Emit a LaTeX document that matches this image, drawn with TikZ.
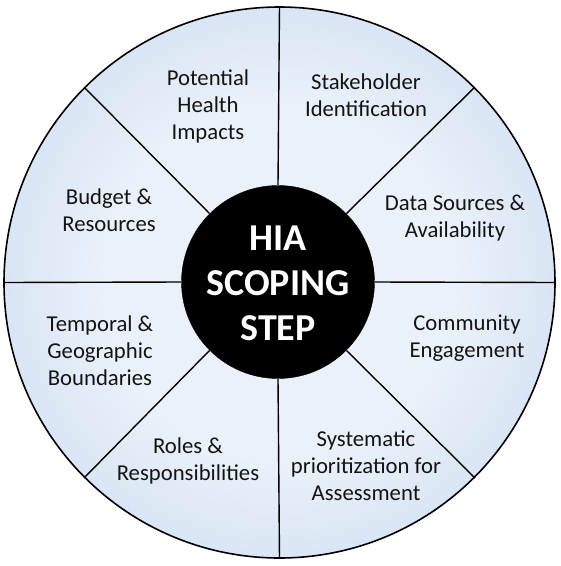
\documentclass[tikz,border=0pt]{standalone}
\usepackage{fontspec}
\setmainfont{Carlito}
\definecolor{innerblue}{RGB}{234,241,250}
\definecolor{outerblue}{RGB}{172,198,229}
\definecolor{labeltext}{RGB}{20,20,20}
\pgfdeclareradialshading{wheelshade}{\pgfpoint{0bp}{0bp}}{color(0bp)=(innerblue); color(16bp)=(innerblue); color(50bp)=(outerblue)}
\begin{document}
\begin{tikzpicture}[x=1pt,y=-1pt,
  wheel/.style={circle, draw=black, line width=1.6pt, shading=wheelshade, inner sep=0pt, minimum size=551pt},
  hubstyle/.style={circle, fill=black, draw=black, inner sep=0pt, minimum size=193pt},
  hubtextstyle/.style={text=white, align=center, inner sep=0pt, font=\fontsize{38}{45}\selectfont\bfseries},
  divider/.style={line width=1.4pt, draw=black},
  seglabel/.style={align=center, text=labeltext, inner sep=0pt, font=\fontsize{22.7}{27}\selectfont}]
\useasboundingbox (0,0) rectangle (561,566);
\node[wheel] (outer) at (279.5,282.5) {};
\node[hubstyle] (hub) at (278,282) {};
\foreach \a in {0,45,...,315} {
  \draw[divider] (hub.\a) -- (outer.\a);
}
\node[hubtextstyle] (hubtext) at (278,283) {HIA\\SCOPING\\STEP};
\node[seglabel] (potential) at (208,106) {Potential\\Health\\Impacts};
\node[seglabel] (stake) at (366,95) {Stakeholder\\Identification};
\node[seglabel] (data) at (455,218) {Data Sources \&\\Availability};
\node[seglabel] (budget) at (109,210) {Budget \&\\Resources};
\node[seglabel] (temporal) at (100,351) {Temporal \&\\Geographic\\Boundaries};
\node[seglabel] (roles) at (188,461) {Roles \&\\Responsibilities};
\node[seglabel] (community) at (467,338) {Community\\Engagement};
\node[seglabel] (systematic) at (366,466) {Systematic\\prioritization for\\Assessment};
\end{tikzpicture}
\end{document}
